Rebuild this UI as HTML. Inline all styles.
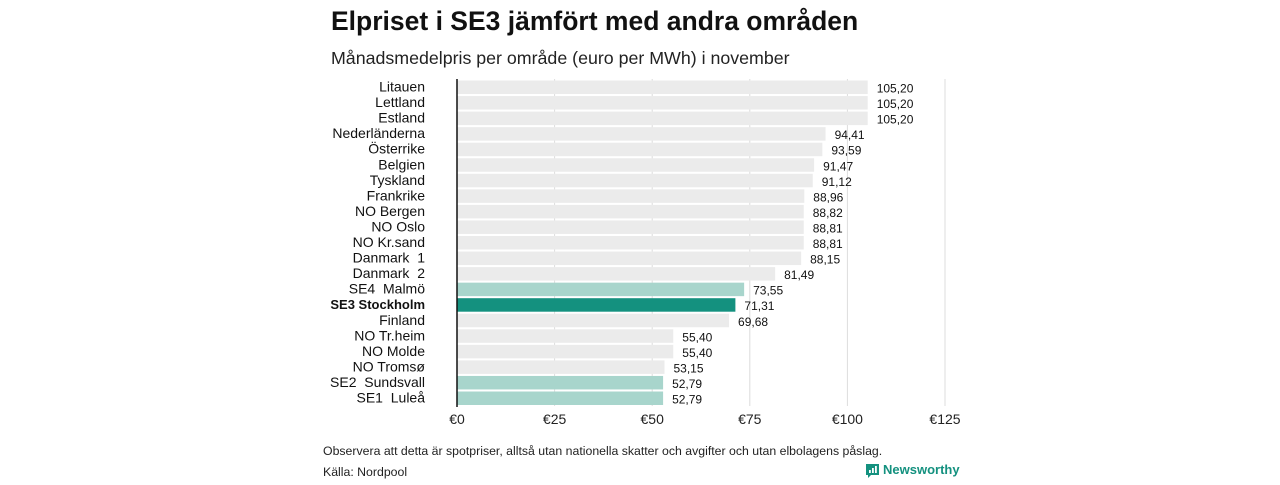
<!DOCTYPE html>
<html><head><meta charset="utf-8"><style>
body{margin:0;background:#fff;width:1280px;height:480px;overflow:hidden;font-family:"Liberation Sans","DejaVu Sans",sans-serif}
</style></head><body>
<svg id="c" width="1280" height="480" xmlns="http://www.w3.org/2000/svg">
<text x="331" y="30" font-size="26.5" font-weight="bold" fill="#111">Elpriset i SE3 jämfört med andra områden</text>
<text x="331" y="64" font-size="17.8" fill="#222">Månadsmedelpris per område (euro per MWh) i november</text>
<g id="grid"></g><g id="bars"></g>
<text x="323" y="455" font-size="12.3" fill="#222">Observera att detta är spotpriser, alltså utan nationella skatter och avgifter och utan elbolagens påslag.</text>
<text x="323" y="476" font-size="12.3" fill="#222">Källa: Nordpool</text>
<g>
<path d="M866 464h13v11h-8l-3 3v-3h-2z" fill="#14917f"/>
<rect x="869" y="470" width="1.8" height="3" fill="#fff"/><rect x="872" y="468" width="1.8" height="5" fill="#fff"/><rect x="875" y="466" width="1.8" height="7" fill="#fff"/>
<text x="883" y="474" font-size="13" fill="#14917f" font-weight="bold">Newsworthy</text></g>
</svg>
<script>
const categories=["Litauen","Lettland","Estland","Nederländerna","Österrike","Belgien","Tyskland","Frankrike","NO Bergen","NO Oslo","NO Kr.sand","Danmark  1","Danmark  2","SE4  Malmö","SE3 Stockholm","Finland","NO Tr.heim","NO Molde","NO Tromsø","SE2  Sundsvall","SE1  Luleå"];
const values=[105.20,105.20,105.20,94.41,93.59,91.47,91.12,88.96,88.82,88.81,88.81,88.15,81.49,73.55,71.31,69.68,55.40,55.40,53.15,52.79,52.79];
const ticks=[0,25,50,75,100,125];
const NS="http://www.w3.org/2000/svg";
const x=v=>457+v*3.904;
const y=i=>80.5+i*15.55;
function mk(t,a,p){const e=document.createElementNS(NS,t);for(const k in a)e.setAttribute(k,a[k]);p.appendChild(e);return e;}
const g=document.getElementById('grid'),b=document.getElementById('bars');
ticks.forEach(t=>{
 if(t>0){const l=mk('line',{x1:x(t),x2:x(t),y1:79,y2:406,stroke:'#dcdcdc','stroke-width':1},g);
 
 }
 const tx=mk('text',{x:x(t),y:424,'font-size':14,'text-anchor':'middle',fill:'#222'},g);tx.textContent='€'+t;
 
 
});
categories.forEach((c,i)=>{
 const se=c.startsWith('SE'),se3=c.startsWith('SE3');
 const r=mk('rect',{x:x(0),y:y(i),width:x(values[i])-x(0),height:13.5,fill:se3?'#14917f':se?'#a8d5cc':'#ebebeb'},b);
 
 
 const lb=mk('text',{x:425,y:y(i)+11,'font-size':se3?13:14,'font-weight':se3?'bold':'normal','text-anchor':'end',fill:'#111'},b);lb.textContent=c;lb.setAttribute('xml:space','preserve');lb.style.whiteSpace='pre';
 
 
 const v=mk('text',{x:x(values[i])+9,y:y(i)+12,'font-size':12,fill:'#111'},b);v.textContent=values[i].toFixed(2).replace('.',',');
 
 
});
const ax=mk('line',{x1:457,x2:457,y1:79,y2:407,stroke:'#111','stroke-width':1.5},b);


</script>
</body></html>
